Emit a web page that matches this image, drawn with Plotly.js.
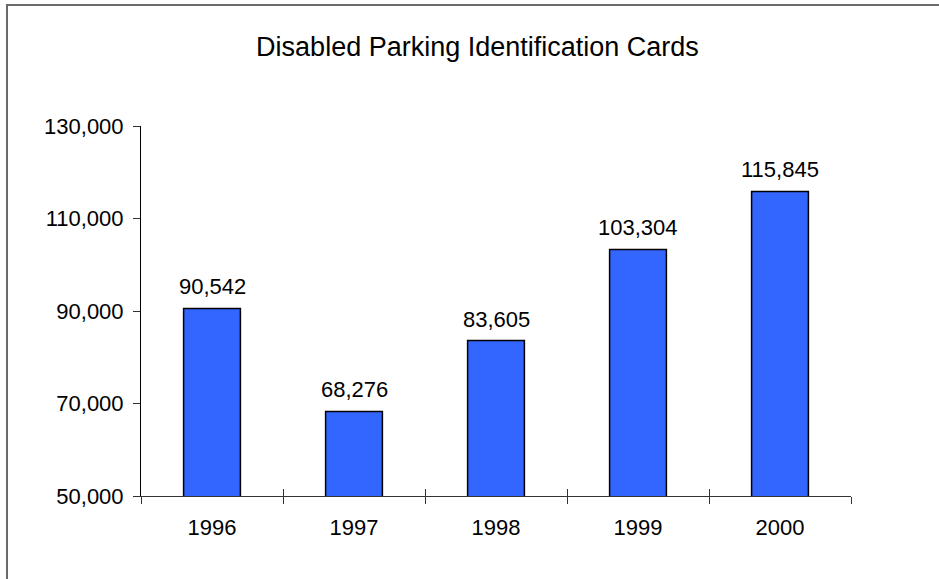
<!DOCTYPE html>
<html>
<head>
<meta charset="utf-8">
<script src="https://cdn.plot.ly/plotly-3.0.1.min.js"></script>
<style>
  html, body { margin: 0; padding: 0; overflow: hidden; background: #fff; }
  #wrap { position: relative; width: 939px; height: 579px; overflow: hidden; }
  #frame { position: absolute; left: 6px; top: 4px; width: 2000px; height: 2000px;
           border-left: 2px solid #6a6a6a; border-top: 2px solid #6a6a6a; pointer-events: none; }
  #chart { position: absolute; left: 0; top: 0; width: 939px; height: 579px; }
</style>
</head>
<body>
<div id="wrap">
  <div id="chart"></div>
  <div id="frame"></div>
</div>
<script>
const years = ["1996", "1997", "1998", "1999", "2000"];
const cards = [90542, 68276, 83605, 103304, 115845];
const yTicks = [50000, 70000, 90000, 110000, 130000];
const titleText = "Disabled Parking Identification Cards";

const FONT = "Arial, 'Liberation Sans', sans-serif";

const bars = {
  type: "bar",
  x: years,
  y: cards,
  marker: { color: "#3366FF", line: { color: "#000000", width: 1.5 } },
  hoverinfo: "none",
  cliponaxis: false
};
const dummy = {
  type: "scatter", x: years, y: cards, xaxis: "x2", yaxis: "y",
  mode: "markers", marker: { opacity: 0 }, hoverinfo: "none", showlegend: false
};

// category axes take the category index as annotation position
const annotations = years.map((yr, i) => ({
  x: i, y: cards[i], xref: "x", yref: "y",
  text: cards[i].toLocaleString("en-US"),
  showarrow: false, yanchor: "bottom", yshift: 7,
  font: { family: FONT, size: 22, color: "#000" }
}));

const catRange = [-0.5, years.length - 0.5];

const layout = {
  width: 939, height: 579,
  margin: { l: 141, r: 88, t: 126, b: 83 },
  paper_bgcolor: "rgba(0,0,0,0)",
  plot_bgcolor: "rgba(0,0,0,0)",
  showlegend: false,
  bargap: 0.6,
  font: { family: FONT, size: 22, color: "#000" },
  title: {
    text: titleText,
    font: { family: FONT, size: 27, color: "#000" },
    xref: "container", yref: "container",
    x: 0.5085, y: 1 - 47 / 579, xanchor: "center", yanchor: "middle"
  },
  xaxis: {
    type: "category", range: catRange,
    showline: true, linecolor: "#333", linewidth: 1,
    ticks: "outside", tickson: "boundaries", ticklen: 7, tickcolor: "#333", tickwidth: 1,
    showgrid: false, zeroline: false,
    tickfont: { family: FONT, size: 22, color: "#000" },
    ticklabelstandoff: 12
  },
  xaxis2: {
    type: "category", overlaying: "x", side: "bottom", anchor: "y", range: catRange,
    showline: false, ticks: "inside", tickson: "boundaries", ticklen: 7,
    tickcolor: "#333", tickwidth: 1, showticklabels: false, showgrid: false, zeroline: false
  },
  yaxis: {
    range: [50000, 130000],
    tickvals: yTicks,
    ticktext: yTicks.map(v => v.toLocaleString("en-US")),
    showline: true, linecolor: "#000", linewidth: 1,
    ticks: "outside", ticklen: 7, tickcolor: "#333", tickwidth: 1,
    showgrid: false, zeroline: false,
    tickfont: { family: FONT, size: 22, color: "#000" },
    ticklabelstandoff: 5
  },
  annotations: annotations
};

Plotly.newPlot("chart", [bars, dummy], layout, { displayModeBar: false, staticPlot: true });
</script>
</body>
</html>
